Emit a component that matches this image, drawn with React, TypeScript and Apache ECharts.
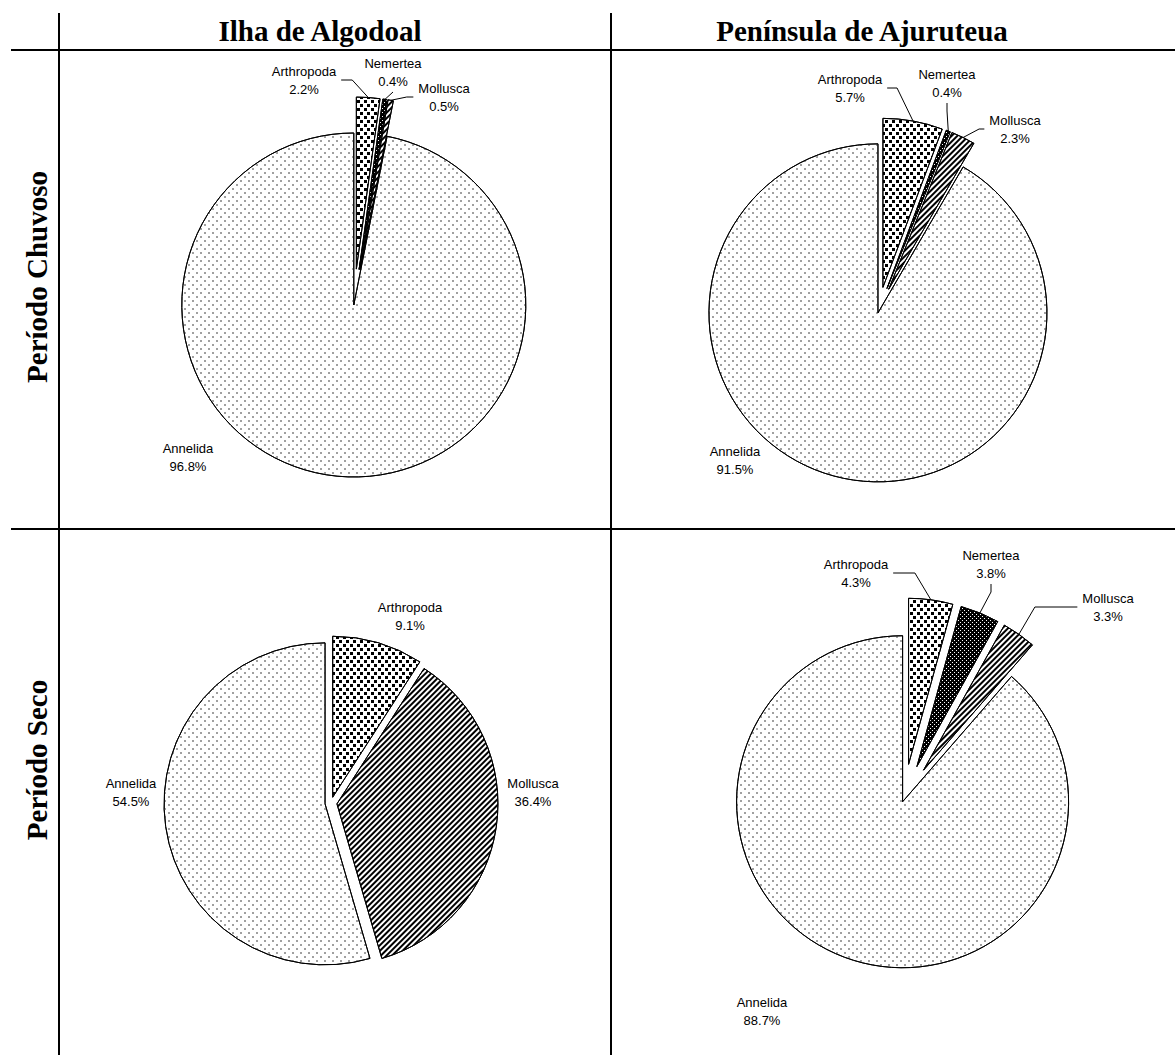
import React, { useEffect, useRef } from 'react';
import * as echarts from 'echarts';

// ---- data ----
const taxa = ['Arthropoda', 'Nemertea', 'Mollusca', 'Annelida'];
const algodoalChuvoso = [2.2, 0.4, 0.5, 96.8];
const ajuruteuaChuvoso = [5.7, 0.4, 2.3, 91.5];
const algodoalSeco = [9.1, 0, 36.4, 54.5];
const ajuruteuaSeco = [4.3, 3.8, 3.3, 88.7];
const columnTitles = ['Ilha de Algodoal', 'Península de Ajuruteua'];
const rowTitles = ['Período Chuvoso', 'Período Seco'];

// ---- styles ----
const fills: Record<string, string> = {
  Arthropoda: '#ffffff',
  Nemertea: '#000000',
  Mollusca: '#ffffff',
  Annelida: '#ffffff',
};
const decals: Record<string, any> = {
  Annelida: { symbol: 'rect', symbolSize: 0.75, color: '#555555', backgroundColor: null, dashArrayX: [[2, 6], [0, 4, 2, 2]], dashArrayY: [2, 2] },
  Arthropoda: { symbol: 'rect', symbolSize: 1, color: '#000000', backgroundColor: null, dashArrayX: [[3, 4], [0, 3, 3, 1]], dashArrayY: [3, 1] },
  Nemertea: { symbol: 'rect', symbolSize: 1, color: '#ffffff', backgroundColor: null, dashArrayX: [[1, 3], [0, 2, 1, 1]], dashArrayY: [1, 1] },
  Mollusca: { symbol: 'rect', symbolSize: 1, color: '#000000', backgroundColor: null, dashArrayX: [1, 0], dashArrayY: [2, 2], rotation: -Math.PI / 4 },
};
const labelFont = { family: '"Liberation Sans", Arial, sans-serif', size: 13, lineHeight: 18 };

type PieCfg = {
  values: number[];
  center: [number, number];
  radius: number;
  offMain: number;
  offSmall: number;
  lines: boolean;
  labels: Record<string, [number, number]>;
};

const pies: PieCfg[] = [
  {
    values: algodoalChuvoso, center: [354, 303], radius: 172, offMain: 2, offSmall: 34, lines: true,
    labels: { Arthropoda: [304, 80], Nemertea: [393, 72], Mollusca: [444, 97], Annelida: [188, 457] },
  },
  {
    values: ajuruteuaChuvoso, center: [879, 309], radius: 169, offMain: 4, offSmall: 22, lines: true,
    labels: { Arthropoda: [850, 88], Nemertea: [947, 83], Mollusca: [1015, 129], Annelida: [735, 460] },
  },
  {
    values: algodoalSeco, center: [331, 803], radius: 161, offMain: 6, offSmall: 6, lines: false,
    labels: { Arthropoda: [410, 616], Nemertea: [380, 600], Mollusca: [533, 792], Annelida: [131, 792] },
  },
  {
    values: ajuruteuaSeco, center: [904, 798], radius: 166, offMain: 4, offSmall: 34, lines: true,
    labels: { Arthropoda: [856, 573], Nemertea: [991, 564], Mollusca: [1108, 607], Annelida: [762, 1011] },
  },
];

const labelText = (name: string, v: number) => `${name}\n${v.toFixed(1)}%`;

// exploded slice geometry derived from the data
function sliceGeom(cfg: PieCfg, k: number) {
  const total = cfg.values.reduce((a, b) => a + b, 0);
  const before = cfg.values.slice(0, k).reduce((a, b) => a + b, 0);
  const mid = (2 * Math.PI * (before + cfg.values[k] / 2)) / total;
  const isMain = taxa[k] === 'Annelida';
  const off = isMain ? cfg.offMain : cfg.offSmall;
  const center = [cfg.center[0] + off * Math.sin(mid), cfg.center[1] - off * Math.cos(mid)];
  return { mid, center, isMain };
}

// one pie series per taxon (same data, same angles), shifted outward along the slice's mid angle
function makeSeries(cfg: PieCfg, k: number) {
  const { center } = sliceGeom(cfg, k);
  const data = taxa.map((name, i) => {
    const v = cfg.values[i];
    const visible = i === k && v > 0;
    return {
      name,
      value: v,
      itemStyle: visible
        ? { color: fills[name], borderColor: '#000', borderWidth: 1, decal: decals[name] }
        : { color: 'rgba(0,0,0,0)', borderWidth: 0, opacity: 0, decal: 'none' },
      label: { show: visible },
      labelLine: { show: false },
    };
  });
  return {
    type: 'pie',
    center,
    radius: cfg.radius,
    startAngle: 90,
    clockwise: true,
    avoidLabelOverlap: false,
    emphasis: { disabled: true },
    silent: true,
    label: {
      position: 'outside',
      formatter: (p: any) => labelText(p.name, Number(p.value)),
      fontFamily: labelFont.family,
      fontSize: labelFont.size,
      lineHeight: labelFont.lineHeight,
      color: '#000',
      align: 'center',
    },
    labelLine: { show: false },
    labelLayout: (params: any) => {
      if (params.dataIndex !== k) return {};
      const pos = cfg.labels[taxa[k]];
      if (!pos) return {};
      return { x: pos[0], y: pos[1], align: 'center', verticalAlign: 'middle' };
    },
    data,
  };
}

// leader lines: from the label box to the middle of the exploded slice's outer arc
function leaderLines(cfg: PieCfg, ctx: CanvasRenderingContext2D | null) {
  const out: any[] = [];
  if (!cfg.lines) return out;
  taxa.forEach((name, k) => {
    const v = cfg.values[k];
    if (!(v > 0) || name === 'Annelida') return;
    const pos = cfg.labels[name];
    const { mid, center } = sliceGeom(cfg, k);
    const P = [center[0] + cfg.radius * Math.sin(mid), center[1] - cfg.radius * Math.cos(mid)];
    const lines = labelText(name, v).split('\n');
    let w = 60;
    if (ctx) {
      ctx.font = `${labelFont.size}px ${labelFont.family}`;
      w = Math.max(...lines.map((l) => ctx.measureText(l).width));
    }
    const h = lines.length * labelFont.lineHeight;
    let pts: number[][];
    if (Math.abs(pos[0] - P[0]) < w / 2) {
      const ay = pos[1] + h / 2 + 2;
      pts = P[1] - ay > 14 ? [[pos[0], ay], [pos[0], ay + 8], P] : [[pos[0], ay], P];
    } else if (pos[0] < P[0]) {
      const ax = pos[0] + w / 2 + 5;
      pts = [[ax, pos[1]], [Math.max(ax, P[0] - 16), pos[1]], P];
    } else {
      const ax = pos[0] - w / 2 - 5;
      pts = [[ax, pos[1]], [Math.min(ax, P[0] + 16), pos[1]], P];
    }
    out.push({ type: 'polyline', z: 100, shape: { points: pts }, style: { stroke: '#000', lineWidth: 1, fill: null } });
  });
  return out;
}

const lineStyle = { stroke: '#000', lineWidth: 2 };
const headerFont = { fontSize: 29, fontWeight: 'bold', fontFamily: '"Liberation Serif", "Times New Roman", serif', fill: '#000' };

export default function App() {
  const ref = useRef<HTMLDivElement>(null);
  useEffect(() => {
    if (!ref.current) return;
    const chart = echarts.init(ref.current, undefined, { renderer: 'svg' });
    const ctx = document.createElement('canvas').getContext('2d');
    const series: any[] = [];
    const leaders: any[] = [];
    pies.forEach((cfg) => {
      // main slice first, small slices drawn above
      [3, 0, 1, 2].forEach((k) => {
        if (cfg.values[k] > 0) series.push(makeSeries(cfg, k));
      });
      leaders.push(...leaderLines(cfg, ctx));
    });
    chart.setOption({
      animation: false,
      backgroundColor: '#fff',
      graphic: [
        { type: 'line', shape: { x1: 59, y1: 13, x2: 59, y2: 1055 }, style: lineStyle },
        { type: 'line', shape: { x1: 611, y1: 13, x2: 611, y2: 1055 }, style: lineStyle },
        { type: 'line', shape: { x1: 11, y1: 50, x2: 1175, y2: 50 }, style: lineStyle },
        { type: 'line', shape: { x1: 11, y1: 529, x2: 1175, y2: 529 }, style: lineStyle },
        { type: 'text', x: 320, y: 31, style: { ...headerFont, text: columnTitles[0], align: 'center', verticalAlign: 'middle' } },
        { type: 'text', x: 862, y: 31, style: { ...headerFont, text: columnTitles[1], align: 'center', verticalAlign: 'middle' } },
        { type: 'text', x: 37, y: 277, rotation: Math.PI / 2, style: { ...headerFont, text: rowTitles[0], align: 'center', verticalAlign: 'middle' } },
        { type: 'text', x: 37, y: 760, rotation: Math.PI / 2, style: { ...headerFont, text: rowTitles[1], align: 'center', verticalAlign: 'middle' } },
        ...leaders,
      ],
      series,
    });
    return () => chart.dispose();
  }, []);
  return <div ref={ref} style={{ position: 'fixed', left: 0, top: 0, width: 1175, height: 1055, background: '#fff' }} />;
}
